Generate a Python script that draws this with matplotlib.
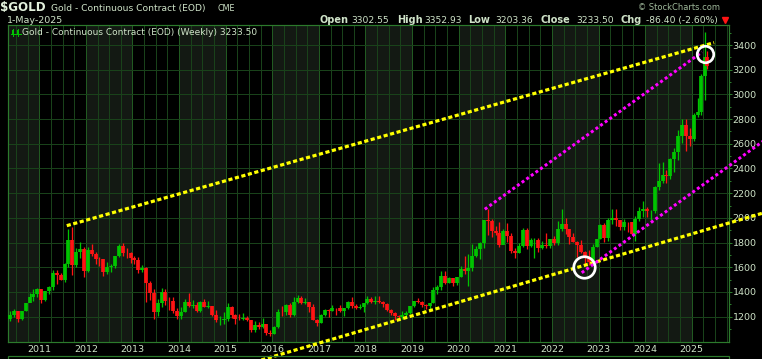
import matplotlib
matplotlib.use("Agg")
import matplotlib.pyplot as plt
import numpy as np
import pandas as pd
from matplotlib.patches import Rectangle
from matplotlib.lines import Line2D

# ---------------- data (monthly bars May-2010 .. Apr-2025, plus last week) ----------------
closes = [
    1213, 1244, 1181, 1246, 1307, 1357, 1384, 1421,                          # 2010 May-Dec
    1332, 1409, 1439, 1556, 1536, 1500, 1628, 1825, 1620, 1724, 1746, 1566,  # 2011
    1738, 1710, 1669, 1664, 1560, 1604, 1614, 1691, 1776, 1719, 1713, 1675,  # 2012
    1663, 1578, 1597, 1472, 1393, 1234, 1312, 1396, 1327, 1323, 1250, 1202,  # 2013
    1240, 1321, 1284, 1296, 1246, 1322, 1282, 1287, 1210, 1171, 1175, 1184,  # 2014
    1279, 1213, 1183, 1182, 1190, 1172, 1095, 1132, 1114, 1142, 1065, 1060,  # 2015
    1116, 1238, 1234, 1293, 1215, 1322, 1350, 1309, 1316, 1275, 1173, 1152,  # 2016
    1211, 1254, 1249, 1269, 1268, 1242, 1270, 1322, 1283, 1271, 1276, 1309,  # 2017
    1343, 1318, 1327, 1316, 1305, 1253, 1233, 1207, 1196, 1215, 1226, 1283,  # 2018
    1325, 1316, 1298, 1285, 1311, 1413, 1437, 1529, 1472, 1514, 1473, 1523,  # 2019
    1587, 1566, 1596, 1694, 1751, 1800, 1986, 1978, 1896, 1879, 1780, 1895,  # 2020
    1850, 1734, 1716, 1769, 1906, 1771, 1817, 1818, 1757, 1784, 1776, 1829,  # 2021
    1796, 1909, 1954, 1911, 1848, 1807, 1782, 1726, 1672, 1640, 1768, 1826,  # 2022
    1945, 1836, 1986, 1999, 1982, 1929, 1970, 1966, 1866, 1995, 2058, 2071,  # 2023
    2053, 2054, 2254, 2302, 2348, 2339, 2473, 2536, 2660, 2749, 2665, 2641,  # 2024
    2835, 2858, 3150, 3305, 3233.50,                                         # 2025 + last week
]
highs = [
    1249, 1265, 1212, 1248, 1310, 1388, 1425, 1432,
    1424, 1412, 1448, 1575, 1577, 1555, 1632, 1912, 1923, 1760, 1804, 1764,
    1764, 1792, 1720, 1680, 1669, 1640, 1630, 1693, 1790, 1798, 1755, 1723,
    1695, 1684, 1617, 1599, 1488, 1424, 1347, 1434, 1424, 1362, 1362, 1268,
    1280, 1346, 1392, 1332, 1316, 1326, 1346, 1324, 1290, 1255, 1205, 1239,
    1308, 1290, 1224, 1225, 1232, 1205, 1170, 1169, 1157, 1191, 1143, 1089,
    1128, 1264, 1287, 1305, 1307, 1362, 1377, 1370, 1352, 1318, 1306, 1183,
    1220, 1264, 1261, 1296, 1272, 1296, 1274, 1331, 1362, 1306, 1300, 1310,
    1366, 1362, 1365, 1369, 1326, 1309, 1266, 1238, 1215, 1247, 1243, 1287,
    1331, 1349, 1324, 1300, 1311, 1442, 1453, 1566, 1566, 1519, 1516, 1524,
    1611, 1691, 1704, 1788, 1775, 1801, 1985, 2070, 1993, 1933, 1966, 1907,
    1960, 1875, 1755, 1799, 1916, 1919, 1836, 1834, 1837, 1814, 1877, 1833,
    1854, 1976, 2070, 1998, 1870, 1880, 1814, 1824, 1735, 1737, 1786, 1833,
    1949, 1959, 2000, 2070, 2075, 1985, 1990, 1970, 1953, 2019, 2089, 2135,
    2089, 2067, 2256, 2448, 2450, 2389, 2483, 2570, 2708, 2801, 2801, 2726,
    2853, 2974, 3163, 3509, 3352.93,
]
lows = [
    1162, 1199, 1155, 1175, 1242, 1315, 1331, 1359,
    1309, 1327, 1381, 1420, 1462, 1496, 1478, 1603, 1535, 1604, 1676, 1523,
    1564, 1695, 1628, 1613, 1527, 1548, 1563, 1598, 1685, 1694, 1673, 1635,
    1626, 1555, 1565, 1321, 1338, 1180, 1207, 1280, 1292, 1251, 1231, 1182,
    1182, 1240, 1277, 1268, 1240, 1240, 1280, 1273, 1204, 1160, 1131, 1142,
    1167, 1190, 1142, 1175, 1170, 1162, 1072, 1077, 1097, 1112, 1054, 1046,
    1063, 1108, 1208, 1212, 1199, 1208, 1310, 1302, 1304, 1241, 1171, 1124,
    1147, 1209, 1195, 1244, 1214, 1236, 1205, 1266, 1271, 1260, 1265, 1236,
    1301, 1307, 1303, 1310, 1282, 1250, 1212, 1175, 1180, 1182, 1196, 1222,
    1277, 1310, 1281, 1266, 1266, 1308, 1384, 1413, 1465, 1471, 1446, 1459,
    1518, 1549, 1451, 1567, 1680, 1670, 1757, 1863, 1849, 1860, 1764, 1818,
    1802, 1717, 1673, 1719, 1767, 1750, 1761, 1677, 1721, 1746, 1760, 1753,
    1780, 1780, 1890, 1872, 1787, 1805, 1681, 1712, 1615, 1617, 1616, 1768,
    1826, 1804, 1809, 1949, 1937, 1900, 1902, 1884, 1859, 1810, 1974, 2004,
    2004, 1984, 2038, 2228, 2286, 2285, 2318, 2374, 2472, 2604, 2541, 2583,
    2625, 2814, 2832, 2956, 3203.36,
]
first_open = 1180
last_week_open = 3302.55
last_week_date = "2025-04-28"

# header values
hdr_open, hdr_high, hdr_low, hdr_close = "3302.55", "3352.93", "3203.36", "3233.50"
hdr_chg = "-86.40 (-2.60%)"
hdr_date = "1-May-2025"

# hand-drawn annotations (data coordinates: decimal year, price)
yellow_upper = [(2011.59, 1937), (2025.48, 3419)]
yellow_lower = [(2015.50, 820), (2026.60, 2047)]
magenta_upper = [(2020.56, 2070), (2025.22, 3343)]
magenta_lower = [(2022.64, 1556), (2026.60, 2640)]
circle_top = (2025.29, 3325)
circle_bottom = (2022.69, 1605)

y_ticks = list(range(1200, 3401, 200))
year_labels = list(range(2011, 2026))

# ---------------- figure ----------------
W, H, DPI = 762, 359, 100
fig = plt.figure(figsize=(W / DPI, H / DPI), dpi=DPI, facecolor="black")
PT = 72.0 / DPI  # points per pixel


def fx(px):
    return px / W


def fy(py):
    return 1 - py / H


L, R, T, B = 8, 729, 25, 342
ax = fig.add_axes([fx(L), fy(B), (R - L) / W, (B - T) / H])
ax.set_facecolor("black")
ax.set_xlim(2010.329, 2025.80)
ax.set_ylim(995, 3562)

BORDER = "#2c7a2c"
GRID = "#19421a"
YEARGRID = "#215a21"
SHADE = "#131913"
TXT = "#cfe3c8"
GREEN = "#00c400"
RED = "#ff1414"

# alternating year shading
for yr in range(2010, 2026, 2):
    ax.axvspan(yr, yr + 1, color=SHADE, lw=0, zorder=0)
# quarterly vertical grid
for q in np.arange(2010.5, 2025.8, 0.25):
    is_year = abs(q - round(q)) < 1e-6
    ax.axvline(q, color=YEARGRID if is_year else GRID, lw=1 * PT, zorder=1)
for v in y_ticks:
    ax.axhline(v, color=GRID, lw=1 * PT, zorder=1)

# bar positions
months = pd.date_range("2010-05-01", periods=len(closes) - 1, freq="MS")
xs = [d.year + (d.month - 1) / 12 + 0.5 / 12 for d in months]
lw_d = pd.Timestamp(last_week_date)
xs.append(lw_d.year + (lw_d.dayofyear + 3) / 365.25)
xs = np.array(xs)
opens = np.array([first_open] + closes[:-2] + [last_week_open], dtype=float)
c = np.array(closes, dtype=float)
hi = np.array(highs, dtype=float)
lo = np.array(lows, dtype=float)
up = c >= opens
cols = np.where(up, GREEN, RED)

ax.vlines(xs, lo, hi, colors=cols, lw=1.3 * PT, zorder=3)
ax.vlines(xs, np.minimum(opens, c), np.maximum(opens, c), colors=cols,
          lw=3.7 * PT, zorder=3)

# trend lines
def tline(pts, color, lw, dashes, clip):
    (x0, y0), (x1, y1) = pts
    ln, = ax.plot([x0, x1], [y0, y1], color=color, lw=lw * PT, zorder=6,
                  solid_capstyle="butt", dash_capstyle="butt", clip_on=clip)
    ln.set_dashes(dashes)
    return ln

tline(yellow_upper, "#ffff00", 3.2, (1.3, 0.8), True)
tline(yellow_lower, "#ffff00", 3.2, (1.3, 0.8), False)
tline(magenta_upper, "#ff00ff", 3.0, (1.0, 0.9), True)
tline(magenta_lower, "#ff00ff", 3.0, (1.0, 0.9), False)

ax.plot([circle_top[0]], [circle_top[1]], marker="o", ms=16.5 * PT, mfc="none",
        mec="white", mew=2.7 * PT, zorder=7)
ax.plot([circle_bottom[0]], [circle_bottom[1]], marker="o", ms=21.5 * PT, mfc="none",
        mec="white", mew=2.7 * PT, zorder=7)

# spines / ticks
for s in ax.spines.values():
    s.set_color(BORDER)
    s.set_linewidth(1.2 * PT)
ax.yaxis.tick_right()
ax.set_yticks(y_ticks)
ax.set_yticklabels([str(v) for v in y_ticks])
ax.set_yticks(list(range(1100, 3501, 200)), minor=True)
ax.tick_params(axis="y", which="major", colors=BORDER, labelcolor=TXT, length=3 * PT,
               width=1 * PT, pad=0.5, labelsize=6.8)
ax.tick_params(axis="y", which="minor", colors=BORDER, length=2 * PT, width=1 * PT)
ax.set_xticks(year_labels)
ax.set_xticklabels([str(y) for y in year_labels])
ax.tick_params(axis="x", length=0, pad=3 * PT, labelcolor=TXT, labelsize=6.8)

# lower panel top border (cut off)
fig.patches.append(Rectangle((fx(L), fy(372)), (R - L) / W, (372 - 356.5) / H,
                             transform=fig.transFigure, fill=False, ec=BORDER,
                             lw=1.2 * PT, clip_on=False))

# ---------------- header texts ----------------
def t(px, py, s, size, bold=False, color=TXT, ha="left"):
    fig.text(fx(px), fy(py), s, fontsize=size, color=color, ha=ha, va="baseline",
             fontweight="bold" if bold else "normal", family="DejaVu Sans")

t(0, 11, "$GOLD", 8.6, bold=True, color="#e2f0dc")
t(51, 11, "Gold - Continuous Contract (EOD)", 6.55)
t(218, 11, "CME", 5.8)
t(638, 10, "\u00a9 StockCharts.com", 6.0, color="#9fb89a")
t(7, 23, hdr_date, 6.8)

pieces = [(319.3, "Open", True), (351.7, hdr_open, False),
          (396.7, "High", True), (424.0, hdr_high, False),
          (468.3, "Low", True), (495.7, hdr_low, False),
          (540.7, "Close", True), (576.0, hdr_close, False),
          (620.7, "Chg", True), (645.7, hdr_chg, False)]
for px, s, b in pieces:
    t(px, 23, s, 7.0 if b else 6.6, bold=b)
fig.add_artist(Line2D([fx(724.5)], [fy(19.5)], marker="v", ms=5 * PT * 1.3,
                      color=RED, mec=RED, transform=fig.transFigure))

# legend inside plot
t(22, 35, "Gold - Continuous Contract (EOD) (Weekly) 3233.50", 6.5)
for x0, x1, ya, yb in [(12, 14, 29, 35.5), (17, 19, 29, 35.5)]:
    fig.patches.append(Rectangle((fx(x0), fy(yb - 1)), (x1 - x0) / W, (yb - ya - 2) / H,
                                 transform=fig.transFigure, color=GREEN, lw=0))
    fig.add_artist(Line2D([fx((x0 + x1) / 2)] * 2, [fy(ya), fy(yb)],
                          color=GREEN, lw=1 * PT, transform=fig.transFigure))
fig.add_artist(Line2D([fx(11), fx(20.5)], [fy(33.5), fy(33.5)], color=GREEN,
                      lw=1 * PT, transform=fig.transFigure))

fig.savefig("out.png", dpi=DPI, facecolor="black")
